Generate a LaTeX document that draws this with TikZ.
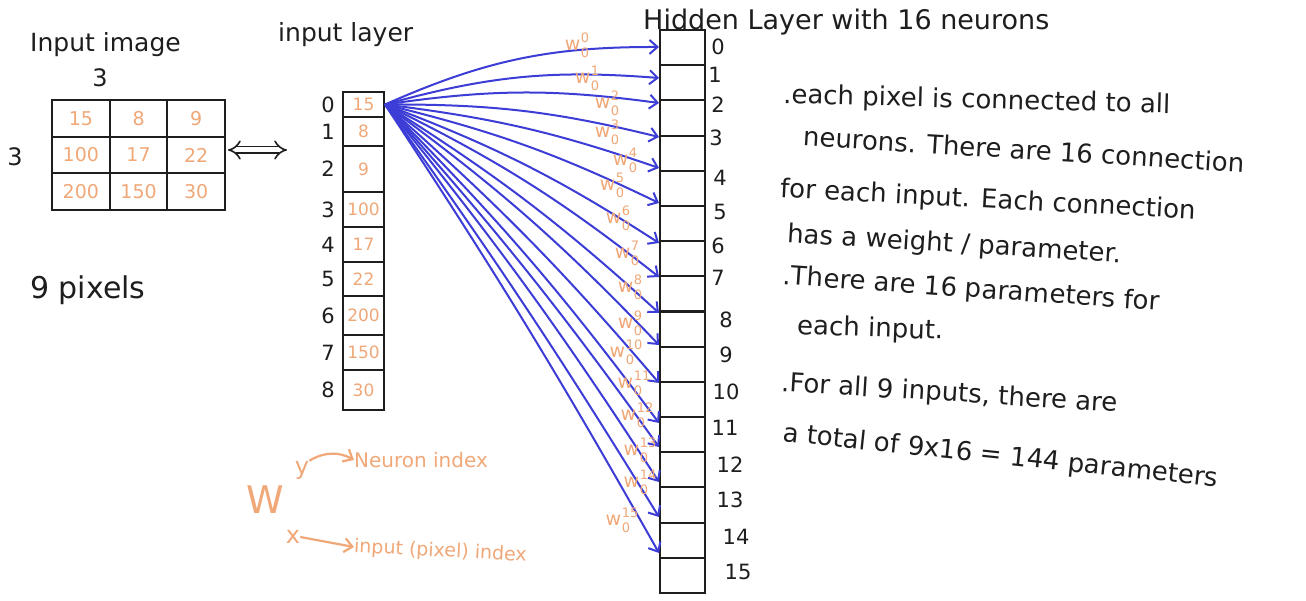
\documentclass[tikz,border=0pt]{standalone}
\usepackage{fontspec}
\setmainfont{DejaVu Sans}
\usetikzlibrary{arrows.meta}
\definecolor{wblue}{RGB}{60,60,215}
\definecolor{worange}{RGB}{240,168,120}
\definecolor{ink}{RGB}{30,30,30}
\newcommand{\wsub}[1]{w\kern0.5pt\rlap{\raisebox{-0.35em}{\fontsize{13}{13}\selectfont 0}}\raisebox{0.45em}{\fontsize{13}{13}\selectfont #1}}
\begin{document}
\begin{tikzpicture}[x=1pt,y=-1pt,
  hand/.style={font=\fontsize{24}{28}\selectfont, text=ink, inner sep=0pt, anchor=west},
  note/.style={font=\fontsize{26}{30}\selectfont, text=ink, inner sep=0pt, anchor=west},
  idx/.style={font=\fontsize{21}{24}\selectfont, text=ink, inner sep=0pt},
  icell/.style={draw=ink, line width=2pt, minimum width=41pt, inner sep=0pt, text=worange, font=\fontsize{17}{20}\selectfont},
  gcell/.style={draw=ink, line width=2pt, minimum width=57.7pt, minimum height=36.7pt, inner sep=0pt, text=worange, font=\fontsize{19}{22}\selectfont},
  hcell/.style={draw=ink, line width=2pt, minimum width=45pt, minimum height=35.19pt, inner sep=0pt},
  warr/.style={draw=wblue, line width=2pt, -{Straight Barb[length=8pt,width=14pt]}},
  oarr/.style={draw=worange, line width=2.2pt, -{Straight Barb[length=8pt,width=14pt]}},
  wlab/.style={text=worange, font=\fontsize{19}{22}\selectfont, inner sep=0pt},
  olab/.style={text=worange, inner sep=0pt, anchor=west}
]
\useasboundingbox[fill=white] (0,0) rectangle (1306,601);

% input image
\node[hand, font=\fontsize{25}{28}\selectfont] (imgtitle) at (30,45) {Input image};
\node[idx, font=\fontsize{24}{28}\selectfont] (three1) at (100,78) {3};
\node[idx, font=\fontsize{24}{28}\selectfont] (three2) at (15,157) {3};
\foreach \r/\c/\v in {1/1/15,1/2/8,1/3/9,2/1/100,2/2/17,2/3/22,3/1/200,3/2/150,3/3/30}{
  \node[gcell] (g\r\c) at ({52+57.7*(\c-0.5)},{100+36.7*(\r-0.5)}) {\v};
}
\node[hand, font=\fontsize{30}{34}\selectfont] (pix) at (30,290) {9 pixels};

% double arrow
\coordinate (da1) at (228,150);
\coordinate (da2) at (287,150);
\draw[ink, double, double distance=5pt, line width=1.6pt, {Implies}-{Implies}] (da1) -- (da2);

% input layer
\node[hand, font=\fontsize{25}{28}\selectfont] (inlayer) at (278,35) {input layer};
\foreach \k/\ya/\yb/\v in {0/92/117/15,1/117/146/8,2/146/192/9,3/192/227/100,4/227/262/17,5/262/296/22,6/296/335/200,7/335/370/150,8/370/410/30}{
  \node[icell, minimum height={(\yb-\ya)*1pt}] (i\k) at (363.5,{(\ya+\yb)/2}) {\v};
  \node[idx] (n\k) at (328,{(\ya+\yb)/2}) {\k};
}

% hidden layer
\node[hand, font=\fontsize{27}{30}\selectfont] (hidtitle) at (643,22) {Hidden Layer with 16 neurons};
\foreach \k in {0,...,15}{
  \node[hcell] (h\k) at (682.5,{30+35.1875*(\k+0.5)}) {};
}
\foreach \k/\lx/\ly in {0/718/47,1/715/75,2/718/105,3/716/138,4/720/178,5/720/212,6/718/246,7/718/278,8/726/320,9/726/355,10/726/392,11/725/428,12/730/465,13/730/500,14/736/537,15/738/572}{
  \node[idx] (l\k) at (\lx,\ly) {\k};
}

% connections
\foreach \k/\ty/\b in {0/47/12,1/78/10,2/103/8,3/137/7,4/168/6,5/203/6,6/243/6,7/277/6,8/313/5,9/345/5,10/383/4,11/423/4,12/447/3,13/482/3,14/517/2,15/553/2}{
  \coordinate (t\k) at (659,\ty);
  \draw[warr] (i0.east) to[bend left=\b] (t\k);
}

% weight labels
\foreach \k/\wx/\wy in {0/577/45,1/587/78,2/607/103,3/607/132,4/625/160,5/612/185,6/618/218,7/627/253,8/630/287,9/630/323,10/626/352,11/634/383,12/637/415,13/640/450,14/640/482,15/622/520}{
  \node[wlab] (w\k) at (\wx,\wy) {\wsub{\k}};
}

% legend
\node[text=worange, font=\fontsize{38}{40}\selectfont, inner sep=0pt] (W) at (265,500) {W};
\node[text=worange, font=\fontsize{24}{28}\selectfont, inner sep=0pt] (ly) at (302,470) {y};
\node[text=worange, font=\fontsize{24}{28}\selectfont, inner sep=0pt] (lx) at (293,537) {x};
\node[olab, font=\fontsize{20}{24}\selectfont] (nidx) at (354,460) {Neuron index};
\node[olab, font=\fontsize{19}{22}\selectfont, rotate=-3] (pidx) at (354,547) {input (pixel) index};
\draw[oarr] (ly.north east) to[bend left=30] (nidx.west);
\draw[oarr] (lx.east) -- (pidx.west);

% notes
\node[note, rotate=-1.5] (t1) at (783,96) {.each pixel is connected to all};
\node[note, rotate=-3.5] (t2) at (803,136) {neurons. There are 16 connection};
\node[note, rotate=-3] (t3) at (780,190) {for each input. Each connection};
\node[note, rotate=-3.5] (t4) at (787,235) {has a weight / parameter.};
\node[note, rotate=-4] (t5) at (783,277) {.There are 16 parameters for};
\node[note, rotate=-2] (t6) at (797,327) {each input.};
\node[note, rotate=-3.5] (t7) at (781,384) {.For all 9 inputs, there are};
\node[note, rotate=-6] (t8) at (783,434) {a total of 9x16 = 144 parameters};
\end{tikzpicture}
\end{document}
